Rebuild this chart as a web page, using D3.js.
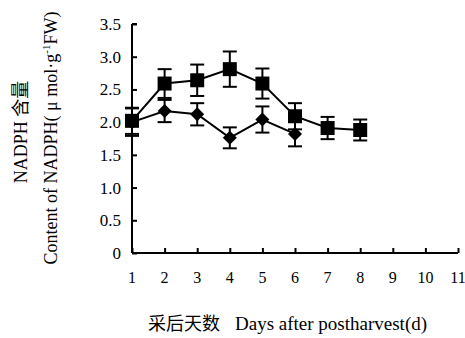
<!DOCTYPE html>
<html>
<head>
<meta charset="utf-8">
<script src="https://cdn.jsdelivr.net/npm/d3@7"></script>
<style>
  body { margin: 0; background: #fff; }
  svg { display: block; }
  text { font-family: "Liberation Serif", "Times New Roman", serif; fill: #000; }
</style>
</head>
<body>
<div id="chart"></div>
<script>
// NADPH content after harvest, two treatments with error bars

const days      = [1, 2, 3, 4, 5, 6, 7, 8]
const squareVal = [2.02, 2.59, 2.64, 2.81, 2.59, 2.09, 1.91, 1.88]
const squareErr = [0.20, 0.22, 0.24, 0.27, 0.23, 0.20, 0.17, 0.16]
const diamDays  = [1, 2, 3, 4, 5, 6]
const diamVal   = [2.00, 2.17, 2.12, 1.76, 2.04, 1.82]
const diamErr   = [0.21, 0.17, 0.17, 0.16, 0.20, 0.19]
const xTicks    = [1, 2, 3, 4, 5, 6, 7, 8, 9, 10, 11]
const yTicks    = [0, 0.5, 1.0, 1.5, 2.0, 2.5, 3.0, 3.5]

const W = 465, H = 338
const svg = d3.select("#chart").append("svg")
  .attr("width", W).attr("height", H)

const x = d3.scaleLinear().domain([1, 11]).range([132, 458])
const y = d3.scaleLinear().domain([0, 3.5]).range([253, 24])

// axes with inward ticks
const yAxis = svg.append("g")
  .attr("transform", `translate(${x(1)},0)`)
  .call(d3.axisRight(y).tickValues(yTicks).tickSize(5).tickFormat(""))
yAxis.select(".domain").attr("stroke-width", 2).attr("d", `M0,${y(3.5)}H5M0,${y(3.5)}V${y(0)}`)
yAxis.selectAll(".tick line").attr("stroke-width", 2)

const xAxis = svg.append("g")
  .attr("transform", `translate(0,${y(0)})`)
  .call(d3.axisTop(x).tickValues(xTicks).tickSize(5).tickFormat(""))
xAxis.select(".domain").attr("stroke-width", 2).attr("d", `M${x(1)},0H${x(11)}`)
xAxis.selectAll(".tick line").attr("stroke-width", 2)

// tick labels
svg.append("g").selectAll("text")
  .data(yTicks).join("text")
  .attr("x", 121).attr("y", d => y(d) + 6)
  .attr("text-anchor", "end")
  .style("font-size", "17px")
  .text(d => d === 0 ? "0" : d.toFixed(1))

svg.append("g").selectAll("text")
  .data(xTicks).join("text")
  .attr("x", d => x(d)).attr("y", 283)
  .attr("text-anchor", "middle")
  .style("font-size", "16px")
  .text(d => d)

// axis titles
svg.append("text")
  .attr("x", 148).attr("y", 330)
  .style("font-size", "19px")
  .html('<tspan style="font-family:\'Noto Sans CJK SC\';font-size:18px">采后天数</tspan><tspan x="235">Days after postharvest(d)</tspan>')

svg.append("text")
  .attr("transform", "translate(27,132) rotate(-90)")
  .attr("text-anchor", "middle")
  .style("font-size", "18px")
  .html('NADPH <tspan style="font-family:\'Noto Sans CJK SC\'">含量</tspan>')

svg.append("text")
  .attr("transform", "translate(57,138) rotate(-90)")
  .attr("text-anchor", "middle")
  .style("font-size", "18px")
  .html('Content of NADPH( μ mol·g<tspan dy="-7" style="font-size:11px">-1</tspan><tspan dy="7">FW)</tspan>')

// series drawing
function drawSeries(xs, vals, errs, shape) {
  const pts = xs.map((d, i) => ({ day: d, v: vals[i], e: errs[i] }))
  const g = svg.append("g")

  g.append("path").datum(pts)
    .attr("fill", "none").attr("stroke", "#000").attr("stroke-width", 2)
    .attr("d", d3.line().x(d => x(d.day)).y(d => y(d.v)))

  const eb = g.selectAll(".eb").data(pts).join("g")
  eb.append("line")
    .attr("x1", d => x(d.day)).attr("x2", d => x(d.day))
    .attr("y1", d => y(d.v - d.e)).attr("y2", d => y(d.v + d.e))
    .attr("stroke", "#000").attr("stroke-width", 2)
  ;[-1, 1].forEach(s => {
    eb.append("line")
      .attr("x1", d => x(d.day) - 7).attr("x2", d => x(d.day) + 7)
      .attr("y1", d => y(d.v + s * d.e)).attr("y2", d => y(d.v + s * d.e))
      .attr("stroke", "#000").attr("stroke-width", 2)
  })

  g.selectAll(".m").data(pts).join("path")
    .attr("transform", d => `translate(${x(d.day)},${y(d.v)})`)
    .attr("fill", "#000")
    .attr("d", shape)
}

drawSeries(diamDays, diamVal, diamErr, "M0,-7L7,0L0,7L-7,0Z")
drawSeries(days, squareVal, squareErr, "M-7,-7H7V7H-7Z")
</script>
</body>
</html>
